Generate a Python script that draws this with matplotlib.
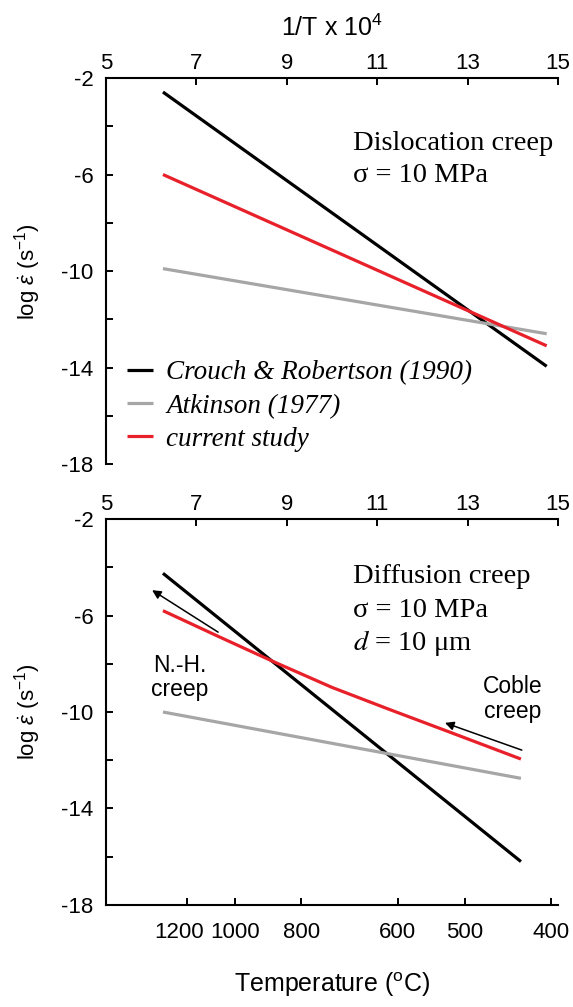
import numpy as np
import matplotlib
matplotlib.use("Agg")
import matplotlib.pyplot as plt
from matplotlib.ticker import MultipleLocator
from matplotlib.transforms import ScaledTranslation

plt.rcParams.update({
    "font.family": "Liberation Sans",
    "mathtext.fontset": "custom",
    "mathtext.rm": "Liberation Sans",
    "mathtext.it": "Liberation Sans:italic",
    "mathtext.bf": "Liberation Sans:bold",
    "axes.unicode_minus": False,
})

# Dislocation creep, sigma = 10 MPa: 1/T x 10^4 (T in K) and log strain rate (s^-1)
disl_x = [6.26, 14.75]
disl_crouch = [-2.58, -13.95]
disl_atkinson = [-9.9, -12.6]
disl_current = [-6.0, -13.1]

# Diffusion creep, sigma = 10 MPa, d = 10 um
diff_x = [6.26, 14.18]
diff_crouch = [-4.25, -16.2]
diff_atkinson = [-10.0, -12.75]
diff_current_x = [6.26, 7.5, 8.75, 10.0, 11.25, 12.5, 14.18]
diff_current = [-5.8, -6.88, -7.95, -8.98, -9.88, -10.76, -11.95]

inv_T_ticks = [5, 7, 9, 11, 13, 15]
temp_ticks_C = [1200, 1000, 800, 600, 500, 400]
log_rate_ticks = [-18, -14, -10, -6, -2]

series_labels = ["Crouch & Robertson (1990)", "Atkinson (1977)", "current study"]
series_colors = ["#000000", "#a6a6a6", "#e8202a"]

LW = 2.3
serif = "Liberation Serif"


def inv_to_celsius(x):
    x = np.asarray(x, dtype=float)
    with np.errstate(divide="ignore", invalid="ignore"):
        return 1e4 / x - 273.15


def celsius_to_inv(t):
    t = np.asarray(t, dtype=float)
    with np.errstate(divide="ignore", invalid="ignore"):
        return 1e4 / (t + 273.15)


def style_axes(ax):
    ax.set_xlim(5, 15)
    ax.set_ylim(-18, -2)
    ax.xaxis.tick_top()
    ax.set_xticks(inv_T_ticks)
    ax.set_yticks(log_rate_ticks)
    ax.yaxis.set_minor_locator(MultipleLocator(2))
    ax.tick_params(axis="both", which="both", direction="in",
                   length=5, width=1.4, labelsize=16)
    ax.tick_params(axis="x", pad=3)
    ax.tick_params(axis="y", pad=9)
    ax.spines["right"].set_visible(False)
    ax.spines["bottom"].set_visible(False)
    for s in ("top", "left"):
        ax.spines[s].set_linewidth(1.5)
    ax.set_ylabel(r"log $\dot{\varepsilon}$ (s$^{-1}$)", fontsize=16)
    ax.yaxis.set_label_coords(-0.14, 0.5)


fig = plt.figure(figsize=(5.73, 10.07), dpi=100)
ax1 = fig.add_axes([0.185, 0.5392, 0.7888, 0.3833])
ax2 = fig.add_axes([0.185, 0.1013, 0.7888, 0.3833])

# ---- dislocation creep ----
style_axes(ax1)
ax1.xaxis.set_label_position("top")
ax1.set_xlabel("1/T x 10$^4$", fontsize=18, labelpad=12)

for ys, lab, col in zip([disl_crouch, disl_atkinson, disl_current],
                        series_labels, series_colors):
    ax1.plot(disl_x, ys, color=col, lw=LW, solid_capstyle="butt", label=lab)

ax1.text(10.46, -4.99, "Dislocation creep", family=serif, fontsize=20.5, va="baseline")
ax1.text(10.46, -6.32, "\u03c3 = 10 MPa", family=serif, fontsize=20.5, va="baseline")

ax1.legend(loc="upper left", bbox_to_anchor=(0.046, 0.268), frameon=False,
           borderpad=0, borderaxespad=0, handlelength=0.95, handletextpad=0.5,
           labelspacing=0.3,
           prop=dict(family=serif, style="italic", size=19.5))

# ---- diffusion creep ----
style_axes(ax2)

ax2.plot(diff_x, diff_crouch, color=series_colors[0], lw=LW, solid_capstyle="butt")
ax2.plot(diff_x, diff_atkinson, color=series_colors[1], lw=LW, solid_capstyle="butt")
ax2.plot(diff_current_x, diff_current, color=series_colors[2], lw=LW, solid_capstyle="butt")

ax2.text(10.46, -4.66, "Diffusion creep", family=serif, fontsize=20.5, va="baseline")
ax2.text(10.46, -6.07, "\u03c3 = 10 MPa", family=serif, fontsize=20.5, va="baseline")
ax2.text(10.46, -7.44, "$d$ = 10 \u03bcm", family=serif, fontsize=20.5, va="baseline",
         math_fontfamily="stix")

ax2.text(6.64, -8.35, "N.-H.", fontsize=16.5, ha="center", va="baseline")
ax2.text(6.64, -9.34, "creep", fontsize=16.5, ha="center", va="baseline")
ax2.text(13.99, -9.22, "Coble", fontsize=16.5, ha="center", va="baseline")
ax2.text(13.99, -10.26, "creep", fontsize=16.5, ha="center", va="baseline")

arrow = dict(arrowstyle="-|>", color="black", lw=1.1, mutation_scale=13,
             shrinkA=0, shrinkB=0)
ax2.annotate("", xy=(6.02, -4.95), xytext=(7.48, -6.69), arrowprops=arrow)
ax2.annotate("", xy=(12.5, -10.45), xytext=(14.2, -11.58), arrowprops=arrow)

# temperature scale along the bottom
sec = ax2.secondary_xaxis("bottom", functions=(inv_to_celsius, celsius_to_inv))
sec.set_xticks(temp_ticks_C)
sec.set_xticklabels([str(t) for t in temp_ticks_C])
sec.tick_params(direction="in", length=5, width=1.4, labelsize=16, pad=12)
sec.spines["bottom"].set_linewidth(1.5)
sec.set_xlabel("Temperature ($^{\\mathrm{o}}$C)", fontsize=18, labelpad=20)

# nudge the 1200 label so it clears its neighbour
first = sec.xaxis.get_major_ticks()[0].label1
first.set_transform(first.get_transform() + ScaledTranslation(-0.08, 0, fig.dpi_scale_trans))

fig.savefig("out.png", dpi=100)
